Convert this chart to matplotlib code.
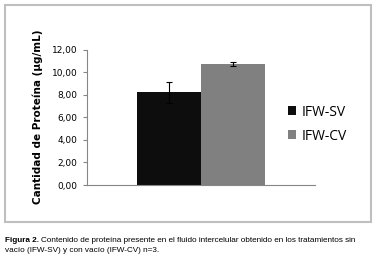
import matplotlib.pyplot as plt
from matplotlib.patches import Rectangle
from matplotlib.ticker import FuncFormatter
from matplotlib import font_manager

labels = ["IFW-SV", "IFW-CV"]
values = [8.2, 10.7]
errors = [0.95, 0.2]
colors = ["#0d0d0d", "#808080"]
yticks = [0, 2, 4, 6, 8, 10, 12]

W, H = 379, 263
fig = plt.figure(figsize=(W / 100, H / 100), dpi=100)

# marco gris alrededor del grafico
fig.patches.append(Rectangle((5 / W, 1 - 222 / H), 365.5 / W, 217.5 / H,
                             transform=fig.transFigure, fill=False,
                             edgecolor="#bfbfbf", linewidth=1.5))

ax = fig.add_axes([87 / W, 1 - 185 / H, 228 / W, 135.5 / H])
for i, (lab, v, e, c) in enumerate(zip(labels, values, errors, colors)):
    ax.bar(i, v, width=1.0, color=c, label=lab, yerr=e, capsize=2,
           error_kw=dict(ecolor="black", elinewidth=0.8, capthick=0.8))

ax.set_xlim(-1.28, 2.28)
ax.set_ylim(0, 12)
ax.set_yticks(yticks)
ax.yaxis.set_major_formatter(FuncFormatter(lambda v, p: f"{v:.2f}".replace(".", ",")))
ax.set_xticks([])
for s in ["top", "right"]:
    ax.spines[s].set_visible(False)
for s in ["left", "bottom"]:
    ax.spines[s].set_color("#868686")
    ax.spines[s].set_linewidth(0.8)
ax.tick_params(axis="y", length=3, width=0.8, color="#868686", labelsize=6.5, pad=4)
ax.set_ylabel("Cantidad de Proteína (µg/mL)", fontsize=7.5, fontweight="bold", labelpad=6)

ax.legend(loc="center left", bbox_to_anchor=(1.0 + (275 - 315) / 228, 0.45), frameon=False,
          handlelength=0.6, handleheight=0.6, handletextpad=0.4,
          labelspacing=0.65, prop={"family": "Open Sans", "size": 10})

# leyenda de figura (fuente estrecha si existe)
try:
    font_manager.findfont("Liberation Sans Narrow", fallback_to_default=False)
    fnt = "Liberation Sans Narrow"
except Exception:
    fnt = "Liberation Sans"

line1 = "Contenido de proteína presente en el fluido intercelular obtenido en los tratamientos sin"
line2 = "vacío (IFW-SV) y con vacío (IFW-CV) n=3."
size = 6.6
while True:
    t1 = fig.text(5 / W, 1 - 240 / H, "Figura 2.", fontsize=size, fontweight="bold",
                  family=fnt, va="center")
    fig.canvas.draw()
    bb = t1.get_window_extent()
    t2 = fig.text((bb.x1 + 2) / W, 1 - 240 / H, line1, fontsize=size, family=fnt, va="center")
    fig.canvas.draw()
    if t2.get_window_extent().x1 <= 368 or size < 4:
        break
    t1.remove()
    t2.remove()
    size -= 0.1
fig.text(5 / W, 1 - 251 / H, line2, fontsize=size, family=fnt, va="center")

fig.savefig("out.png", dpi=100)
